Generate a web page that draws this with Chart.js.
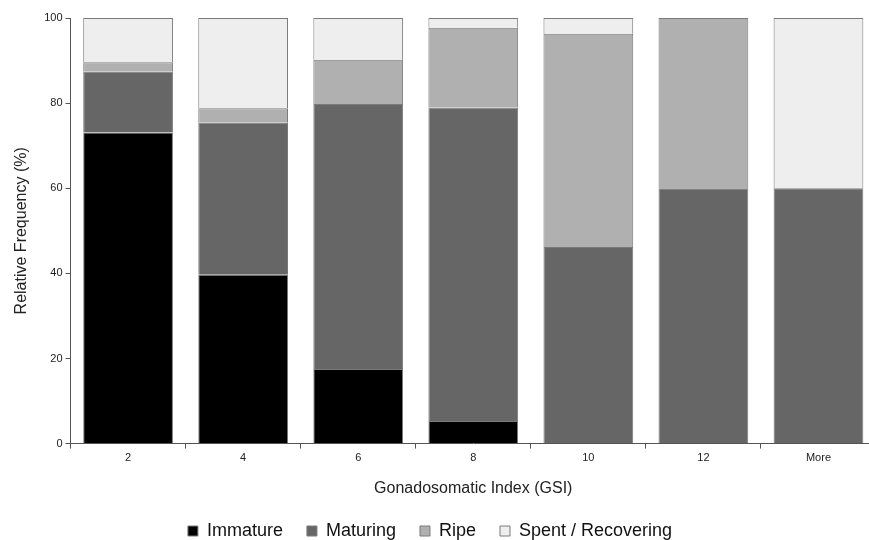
<!DOCTYPE html>
<html>
<head>
<meta charset="utf-8">
<script src="https://cdn.jsdelivr.net/npm/chart.js@4.4.1/dist/chart.umd.min.js"></script>
<style>
    html, body { margin: 0; padding: 0; background: #fff; overflow: hidden; }
    .wrap { width: 876px; height: 540px; }
</style>
</head>
<body>
<div class="wrap"><canvas id="gsiChart"></canvas></div>
<script>
const labels = ["2", "4", "6", "8", "10", "12", "More"];
const immature = [73.1, 39.7, 17.5, 5.3, 0, 0, 0];
const maturing = [14.3, 35.7, 62.3, 73.7, 46.2, 60, 60];
const ripe = [2.2, 3.4, 10.4, 18.7, 50.1, 40, 0];
const spent = [10.4, 21.2, 9.8, 2.3, 3.7, 0, 40];
const yTicks = [0, 20, 40, 60, 80, 100];

const font = "'Liberation Sans', Arial, sans-serif";

function series(label, data, color) {
    return {
        label: label,
        data: data,
        backgroundColor: color,
        borderColor: "#7a7a7a",
        borderWidth: 1,
        categoryPercentage: 1,
        barPercentage: 0.78
    };
}

// legend sits a bit left of the canvas centre and is shorter than chart.js makes it
const legendTweak = {
    id: "legendTweak",
    beforeInit(chart) {
        const fit = chart.legend.fit;
        chart.legend.fit = function () {
            fit.call(this);
            this.height = 42;
        };
    },
    afterLayout(chart) {
        chart.legend.left -= 12;
        chart.legend.right -= 12;
    }
};

new Chart(document.getElementById("gsiChart"), {
    type: "bar",
    data: {
        labels: labels,
        datasets: [
            series("Immature", immature, "#000000"),
            series("Maturing", maturing, "#666666"),
            series("Ripe", ripe, "#b0b0b0"),
            series("Spent / Recovering", spent, "#eeeeee")
        ]
    },
    plugins: [legendTweak],
    options: {
        responsive: true,
        maintainAspectRatio: false,
        animation: false,
        layout: { padding: { top: 18, right: 0, left: 8, bottom: 0 } },
        plugins: {
            tooltip: { enabled: false },
            legend: {
                position: "bottom",
                labels: {
                    color: "#111",
                    font: { family: font, size: 18 },
                    boxWidth: 10,
                    boxHeight: 10,
                    padding: 24
                }
            }
        },
        scales: {
            x: {
                stacked: true,
                grid: { drawOnChartArea: false, drawTicks: true, tickLength: 5, color: "#555", offset: true },
                border: { display: true, color: "#555", width: 1 },
                ticks: { color: "#222", font: { family: font, size: 11 }, padding: 3 },
                title: {
                    display: true,
                    text: "Gonadosomatic Index (GSI)",
                    color: "#222",
                    font: { family: font, size: 16 },
                    padding: { top: 11, bottom: 0 }
                }
            },
            y: {
                stacked: true,
                min: 0,
                max: 100,
                afterBuildTicks: (axis) => { axis.ticks = yTicks.map(v => ({ value: v })); },
                grid: { drawOnChartArea: false, drawTicks: true, tickLength: 5, color: "#555" },
                border: { display: true, color: "#555", width: 1 },
                ticks: { color: "#222", font: { family: font, size: 11 }, padding: 3 },
                title: {
                    display: true,
                    text: "Relative Frequency (%)",
                    color: "#222",
                    font: { family: font, size: 16 },
                    padding: { bottom: 10 }
                }
            }
        }
    }
});
</script>
</body>
</html>
